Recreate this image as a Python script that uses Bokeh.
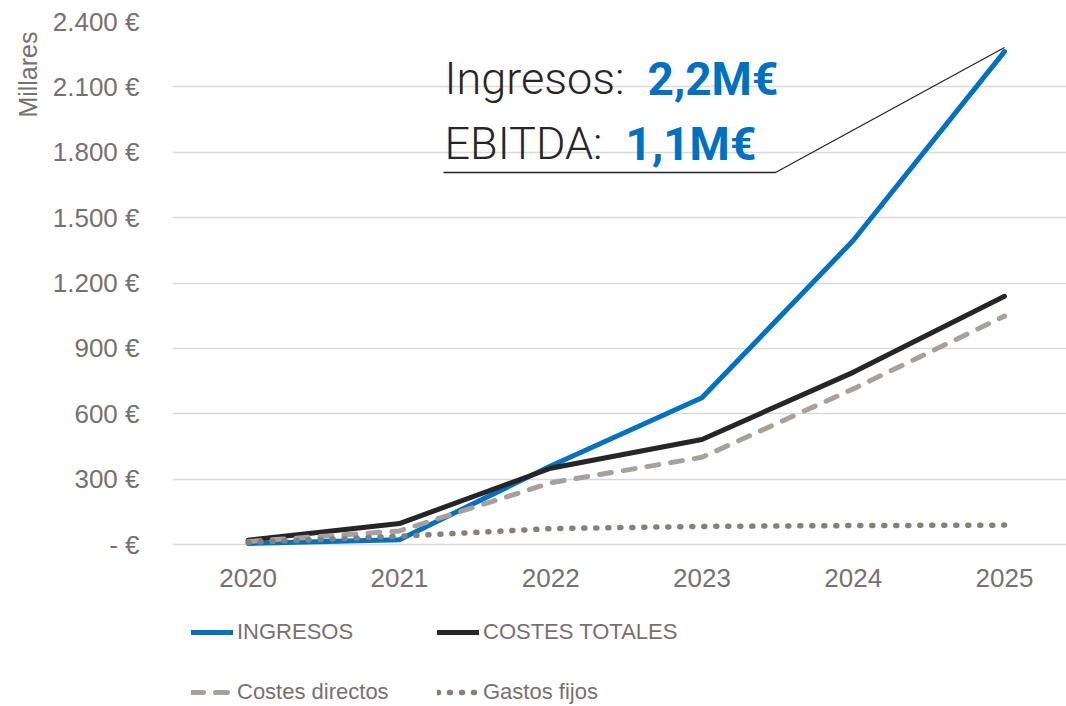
from bokeh.plotting import figure
from bokeh.models import Range1d, FixedTicker, Legend, LegendItem, Label, Title, LinearAxis
from bokeh.embed import file_html
from bokeh.resources import INLINE

# ---- data ----
years = [2020, 2021, 2022, 2023, 2024, 2025]
ingresos = [5, 22, 360, 673, 1395, 2262]
costes_totales = [20, 96, 350, 482, 790, 1139]
costes_directos = [14, 62, 283, 400, 714, 1048]
gastos_fijos = [10, 38, 73, 83, 87, 89]
series_names = ["INGRESOS", "COSTES TOTALES", "Costes directos", "Gastos fijos"]
y_ticks = [0, 300, 600, 900, 1200, 1500, 1800, 2100, 2400]
y_tick_labels = ["- €", "300 €", "600 €", "900 €", "1.200 €", "1.500 €", "1.800 €", "2.100 €", "2.400 €"]
y_title = "Millares"
note_labels = ["Ingresos: ", "EBITDA: "]
note_values = ["2,2M€", "1,1M€"]

# ---- layout (screen pixels) ----
W, H = 1066, 706
FL, FR, FT = 172, 1066, 21          # frame left / right / top
ZERO_PX = 544                       # pixel row of the value 0
X0, X1 = 2019.5, 2025.41
Y_TOP = 2400
Y_PER_PX = Y_TOP / (ZERO_PX - FT)
Y0 = -(H - ZERO_PX) * Y_PER_PX      # frame reaches the bottom of the canvas


def sx(px):
    return X0 + (px - FL) / (FR - FL) * (X1 - X0)


def sy(py):
    return (ZERO_PX - py) * Y_PER_PX


GRAY_TXT = "#767171"

p = figure(width=W, height=H, x_range=Range1d(X0, X1), y_range=Range1d(Y0, Y_TOP),
           output_backend="svg", toolbar_location=None, x_axis_location=None,
           min_border_left=FL, min_border_right=0,
           min_border_top=FT, min_border_bottom=0)
p.outline_line_color = None
p.background_fill_color = "white"
p.border_fill_color = "white"

p.xgrid.grid_line_color = None
p.ygrid.grid_line_color = "#D9D9D9"
p.ygrid.grid_line_width = 1.5

xaxis = LinearAxis(fixed_location=0, ticker=FixedTicker(ticks=years),
                   major_label_overrides={y: str(y) for y in years})
p.add_layout(xaxis, "below")

p.yaxis.ticker = FixedTicker(ticks=y_ticks)
p.yaxis.major_label_overrides = dict(zip(y_ticks, y_tick_labels))
p.ygrid.ticker = FixedTicker(ticks=y_ticks)
for ax in (xaxis, p.yaxis[0]):
    ax.axis_line_color = None
    ax.major_tick_line_color = None
    ax.minor_tick_line_color = None
    ax.major_label_text_font = "Liberation Sans"
    ax.major_label_text_font_size = "26px"
    ax.major_label_text_color = GRAY_TXT
p.yaxis.major_label_standoff = 27
xaxis.major_label_standoff = 18

# ---- series ----
r1 = p.line(years, ingresos, line_color="#0070C0", line_width=5,
            line_join="round", line_cap="round")
r2 = p.line(years, costes_totales, line_color="#262626", line_width=5,
            line_join="round", line_cap="round")
r3 = p.line(years, costes_directos, line_color="#A6A19E", line_width=5,
            line_dash="12 12", line_join="round", line_cap="round")
r4 = p.line(years, gastos_fijos, line_color="#85807C", line_width=5.5,
            line_dash="1 11", line_join="round", line_cap="round")

legend = Legend(
    items=[LegendItem(label=n, renderers=[r]) for n, r in zip(series_names, [r1, r2, r3, r4])],
    orientation="horizontal", ncols=2,
    location=(191 - FL, H - 705),
    glyph_width=42, glyph_height=26, label_height=26, label_width=166,
    label_standoff=4, spacing=34, padding=0, margin=0,
    border_line_color=None, background_fill_alpha=0,
    label_text_font="Liberation Sans", label_text_font_size="22px",
    label_text_color=GRAY_TXT,
)
p.add_layout(legend)

# ---- y title ----
p.add_layout(Title(text=y_title, align="right", offset=10, standoff=15,
                   text_font="Liberation Sans", text_font_size="25px",
                   text_font_style="normal", text_color=GRAY_TXT), "left")

# ---- annotation ----
p.line([sx(443), sx(775), years[-1]], [sy(172), sy(172), sy(47)],
       line_color="#262626", line_width=1.3)
BASE1, BASE2 = 78, 143
p.add_layout(Label(x=sx(444), y=sy(BASE1), text=note_labels[0],
                   text_font="Roboto Light", text_font_size="45px",
                   text_color="#262626", text_baseline="alphabetic"))
p.add_layout(Label(x=sx(647), y=sy(BASE1), text=note_values[0],
                   text_font="Roboto", text_font_style="bold", text_font_size="46px",
                   text_color="#0070C0", text_baseline="alphabetic"))
p.add_layout(Label(x=sx(444), y=sy(BASE2), text=note_labels[1],
                   text_font="Roboto Light", text_font_size="45px",
                   text_color="#262626", text_baseline="alphabetic"))
p.add_layout(Label(x=sx(625), y=sy(BASE2), text=note_values[1],
                   text_font="Roboto", text_font_style="bold", text_font_size="46px",
                   text_color="#0070C0", text_baseline="alphabetic"))

open("out.html", "w").write(file_html(p, INLINE))
